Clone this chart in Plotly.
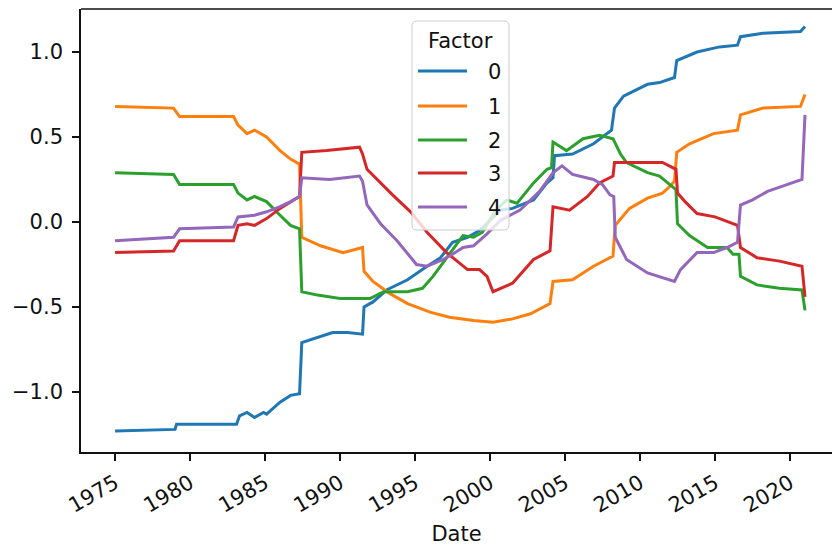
import pandas as pd
import plotly.graph_objects as go

# ---- data (decimal years, values) ----
x0 = [1975.0, 1979.0, 1979.1, 1983.1, 1983.3, 1983.8, 1984.3, 1984.9, 1985.1, 1986.0, 1986.7, 1987.3,
      1987.45, 1988.5, 1989.5, 1990.5, 1991.3, 1991.5, 1991.6, 1992.2, 1993.1, 1994.5, 1995.8, 1996.7,
      1997.5, 1998.5, 1999.3, 2000.7, 2001.5, 2002.9, 2003.8, 2004.2, 2004.3, 2005.5, 2006.9, 2008.1,
      2008.3, 2008.9, 2010.5, 2011.3, 2012.3, 2012.45, 2013.8, 2015.3, 2016.5, 2016.7, 2018.2, 2020.7, 2021.0]
f0 = [-1.23, -1.22, -1.19, -1.19, -1.14, -1.12, -1.15, -1.12, -1.13, -1.06, -1.02, -1.01,
      -0.71, -0.68, -0.65, -0.65, -0.66, -0.66, -0.50, -0.47, -0.40, -0.34, -0.26, -0.21,
      -0.12, -0.09, -0.05, 0.07, 0.08, 0.13, 0.23, 0.26, 0.39, 0.40, 0.46, 0.54,
      0.67, 0.74, 0.81, 0.82, 0.85, 0.95, 1.00, 1.03, 1.04, 1.09, 1.11, 1.12, 1.15]

x1 = [1975.0, 1978.9, 1979.3, 1982.9, 1983.2, 1983.8, 1984.3, 1985.1, 1986.0, 1986.7, 1987.3,
      1987.45, 1988.7, 1990.2, 1991.5, 1991.6, 1992.2, 1993.3, 1994.5, 1996.0, 1997.3, 1998.9,
      2000.2, 2001.5, 2002.7, 2004.0, 2004.2, 2005.5, 2006.9, 2008.2, 2008.35, 2009.3, 2010.5,
      2011.5, 2012.0, 2012.3, 2012.45, 2013.3, 2014.9, 2016.5, 2016.7, 2018.2, 2020.7, 2021.0]
f1 = [0.68, 0.67, 0.62, 0.62, 0.57, 0.52, 0.54, 0.50, 0.42, 0.37, 0.34,
      -0.09, -0.14, -0.18, -0.15, -0.29, -0.35, -0.42, -0.48, -0.53, -0.56, -0.58,
      -0.59, -0.57, -0.54, -0.48, -0.35, -0.34, -0.26, -0.20, -0.02, 0.08, 0.14,
      0.17, 0.21, 0.24, 0.41, 0.46, 0.52, 0.54, 0.63, 0.67, 0.68, 0.75]

x2 = [1975.0, 1978.9, 1979.3, 1982.9, 1983.2, 1983.8, 1984.3, 1985.1, 1986.0, 1986.7, 1987.3,
      1987.45, 1988.5, 1990.0, 1992.0, 1992.9, 1994.5, 1995.5, 1996.2, 1997.1, 1998.2, 1998.9,
      1999.5, 2000.3, 2001.1, 2001.8, 2002.9, 2003.8, 2004.1, 2004.2, 2005.1, 2006.2, 2007.3,
      2008.2, 2008.7, 2009.1, 2010.5, 2011.3, 2012.2, 2012.4, 2012.5, 2013.3, 2014.5, 2015.8,
      2016.2, 2016.6, 2016.7, 2017.8, 2019.3, 2020.8, 2021.0]
f2 = [0.29, 0.28, 0.22, 0.22, 0.17, 0.13, 0.15, 0.12, 0.04, -0.02, -0.04,
      -0.41, -0.43, -0.45, -0.45, -0.41, -0.41, -0.39, -0.32, -0.21, -0.08, -0.09,
      -0.06, 0.06, 0.13, 0.11, 0.23, 0.31, 0.32, 0.47, 0.42, 0.49, 0.51,
      0.49, 0.40, 0.35, 0.29, 0.27, 0.20, 0.19, -0.01, -0.08, -0.15, -0.15,
      -0.19, -0.19, -0.32, -0.37, -0.39, -0.40, -0.52]

x3 = [1975.0, 1978.9, 1979.3, 1982.9, 1983.2, 1983.8, 1984.3, 1985.1, 1986.0, 1986.7, 1987.3,
      1987.45, 1989.1, 1991.3, 1991.5, 1991.8, 1992.7, 1993.5, 1994.7, 1995.8, 1997.1, 1998.5,
      1999.3, 1999.8, 2000.2, 2001.5, 2002.9, 2004.0, 2004.2, 2005.3, 2006.5, 2007.3, 2008.2,
      2008.3, 2010.5, 2011.5, 2012.4, 2012.5, 2013.0, 2013.8, 2015.0, 2016.5, 2016.7, 2017.8,
      2019.3, 2020.8, 2021.0]
f3 = [-0.18, -0.17, -0.11, -0.11, -0.02, -0.01, -0.02, 0.02, 0.08, 0.12, 0.15,
      0.41, 0.42, 0.44, 0.40, 0.31, 0.23, 0.16, 0.06, -0.06, -0.18, -0.28,
      -0.28, -0.32, -0.41, -0.36, -0.22, -0.17, 0.09, 0.07, 0.15, 0.23, 0.27,
      0.35, 0.35, 0.35, 0.31, 0.17, 0.12, 0.05, 0.03, -0.02, -0.15, -0.21,
      -0.23, -0.26, -0.44]

x4 = [1975.0, 1978.9, 1979.3, 1982.9, 1983.2, 1984.3, 1985.1, 1986.0, 1986.7, 1987.3,
      1987.45, 1989.3, 1991.3, 1991.5, 1991.8, 1992.7, 1993.8, 1995.1, 1995.8, 1996.9, 1997.5,
      1998.2, 1998.9, 1999.8, 2000.7, 2002.0, 2003.3, 2004.2, 2004.8, 2005.5, 2006.9, 2007.5,
      2008.0, 2008.25, 2008.35, 2009.1, 2010.5, 2011.5, 2012.3, 2012.7, 2013.8, 2014.9, 2015.8,
      2016.5, 2016.7, 2017.5, 2018.5, 2019.8, 2020.8, 2021.0]
f4 = [-0.11, -0.09, -0.04, -0.03, 0.03, 0.04, 0.06, 0.09, 0.12, 0.15,
      0.26, 0.25, 0.27, 0.24, 0.10, -0.01, -0.11, -0.25, -0.26, -0.22, -0.19,
      -0.15, -0.14, -0.07, 0.01, 0.07, 0.18, 0.29, 0.33, 0.28, 0.25, 0.22,
      0.16, 0.15, -0.09, -0.22, -0.30, -0.33, -0.35, -0.28, -0.18, -0.18, -0.15,
      -0.12, 0.10, 0.13, 0.18, 0.22, 0.25, 0.63]

factor_names = ["0", "1", "2", "3", "4"]
legend_title = "Factor"
colors = ["#1f77b4", "#ff7f0e", "#2ca02c", "#d62728", "#9467bd"]
y_ticks = [-1.0, -0.5, 0.0, 0.5, 1.0]
x_tick_years = [1975, 1980, 1985, 1990, 1995, 2000, 2005, 2010, 2015, 2020]


def to_date(y):
    yr = int(y)
    return pd.Timestamp(year=yr, month=1, day=1) + pd.Timedelta(days=(y - yr) * 365.25)


series = [(x0, f0), (x1, f1), (x2, f2), (x3, f3), (x4, f4)]

W, H = 832, 548
ML, MR, MT, MB = 81, 0, 9, 96
PW, PH = W - ML - MR, H - MT - MB
FONT = "DejaVu Sans"
FS = 21
INK = "#111111"


def px(xp):
    return (xp - ML) / PW


def py(yp):
    return (H - MB - yp) / PH


fig = go.Figure()
for name, col, (xs, ys) in zip(factor_names, colors, series):
    fig.add_trace(go.Scatter(
        x=[to_date(v) for v in xs], y=ys, mode="lines", name=name,
        line=dict(color=col, width=3), showlegend=False))

# ---- matplotlib-style legend (drawn as shapes / annotations) ----
lx0, lx1, ly0, ly1, r = 412, 509, 21, 230, 5
rx, ry = r / PW, r / PH
X0, X1, Y0, Y1 = px(lx0), px(lx1), py(ly1), py(ly0)
box_path = (f"M {X0+rx},{Y0} L {X1-rx},{Y0} Q {X1},{Y0} {X1},{Y0+ry} "
            f"L {X1},{Y1-ry} Q {X1},{Y1} {X1-rx},{Y1} L {X0+rx},{Y1} "
            f"Q {X0},{Y1} {X0},{Y1-ry} L {X0},{Y0+ry} Q {X0},{Y0} {X0+rx},{Y0} Z")
shapes = [
    dict(type="line", xref="paper", yref="paper", x0=0, x1=1, y0=1, y1=1,
         line=dict(color=INK, width=1.6)),
    dict(type="path", xref="paper", yref="paper", path=box_path, layer="above",
         fillcolor="rgba(255,255,255,0.8)", line=dict(color="#cccccc", width=1)),
]
annotations = [dict(xref="paper", yref="paper", x=px(460.5), y=py(41), text=legend_title,
                    showarrow=False, xanchor="center", yanchor="middle",
                    font=dict(family=FONT, size=FS, color=INK))]
entry_y = [71, 106, 140, 173, 207]
for name, col, ey in zip(factor_names, colors, entry_y):
    shapes.append(dict(type="line", xref="paper", yref="paper", layer="above",
                       x0=px(418), x1=px(467), y0=py(ey), y1=py(ey),
                       line=dict(color=col, width=3)))
    annotations.append(dict(xref="paper", yref="paper", x=px(486), y=py(ey + 1), text=name,
                            showarrow=False, xanchor="left", yanchor="middle",
                            font=dict(family=FONT, size=FS, color=INK)))

fig.update_layout(
    width=W, height=H,
    margin=dict(l=ML, r=MR, t=MT, b=MB),
    paper_bgcolor="white", plot_bgcolor="white",
    font=dict(family=FONT, size=FS, color=INK),
    showlegend=False,
    xaxis=dict(
        type="date",
        range=[to_date(1972.73), to_date(2022.8)],
        tickvals=[pd.Timestamp(year=y, month=1, day=1) for y in x_tick_years],
        ticktext=[str(y) for y in x_tick_years],
        tickangle=-30, ticks="outside", ticklen=7, tickwidth=1.6, tickcolor=INK,
        ticklabelstandoff=2,
        showline=True, linecolor=INK, linewidth=1.6, showgrid=False, zeroline=False,
        title=dict(text="Date", font=dict(size=FS), standoff=10),
    ),
    yaxis=dict(
        range=[-1.353, 1.253],
        tickvals=y_ticks, tickformat=".1f",
        ticks="outside", ticklen=7, tickwidth=1.6, tickcolor=INK,
        ticklabelstandoff=5,
        showline=True, linecolor=INK, linewidth=1.6, showgrid=False, zeroline=False,
    ),
    shapes=shapes,
    annotations=annotations,
)

fig.write_html("out.html")
